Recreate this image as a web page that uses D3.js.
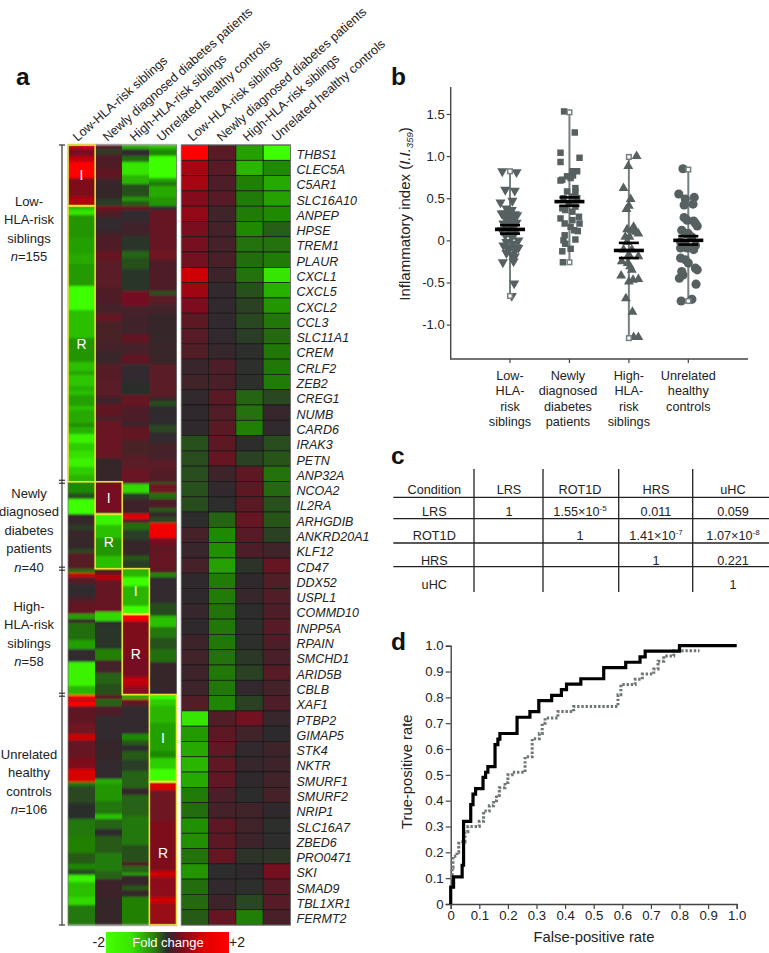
<!DOCTYPE html>
<html><head><meta charset="utf-8">
<style>html,body{margin:0;padding:0;background:#fff}svg{display:block}text{font-family:"Liberation Sans",Arial,sans-serif;fill:#222}</style>
<script src="https://cdn.jsdelivr.net/npm/d3@7"></script></head><body>
<script>
// ---------- data ----------
const conditions=["Low-HLA-risk siblings","Newly diagnosed diabetes patients","High-HLA-risk siblings","Unrelated healthy controls"];
const groupSizes=[155,40,58,106];
const inducedCounts=[28,15,21,40];
const groupLabels=[["Low-","HLA-risk","siblings","=155"],["Newly","diagnosed","diabetes","patients","=40"],["High-","HLA-risk","siblings","=58"],["Unrelated","healthy","controls","=106"]];
const genes=["THBS1","CLEC5A","C5AR1","SLC16A10","ANPEP","HPSE","TREM1","PLAUR","CXCL1","CXCL5","CXCL2","CCL3","SLC11A1","CREM","CRLF2","ZEB2","CREG1","NUMB","CARD6","IRAK3","PETN","ANP32A","NCOA2","IL2RA","ARHGDIB","ANKRD20A1","KLF12","CD47","DDX52","USPL1","COMMD10","INPP5A","RPAIN","SMCHD1","ARID5B","CBLB","XAF1","PTBP2","GIMAP5","STK4","NKTR","SMURF1","SMURF2","NRIP1","SLC16A7","ZBED6","PRO0471","SKI","SMAD9","TBL1XR1","FERMT2"];
const geneLRS=[2,1.3,1.3,1.05,1.15,.95,.9,.85,1.6,1.25,1,.6,.5,.45,.15,.25,.05,.02,.02,-.4,-.35,-.35,-.4,-.35,-.03,.3,.15,.3,.02,.03,.1,.02,.2,.25,.2,.2,.45,-1.8,-1.15,-1.3,-1.4,-1.3,-.85,-.7,-1.05,-1.05,-.75,-1.1,-.7,-.65,-.5];
const geneROT=[.55,.55,.4,.5,.25,.3,.3,.35,.2,.05,.05,.05,.05,.1,.4,.35,.55,.45,.55,.6,.7,.2,.05,-.03,-.6,-1,-1.05,-1.2,-.85,-.85,-.75,-.8,-.8,-.75,-.8,-.8,-.95,.45,.6,.65,.65,.65,.35,.3,.6,.6,.7,-.03,.05,.2,.7];
const geneHRS=[-1.2,-1.4,-.9,-.85,-.85,-1,-.75,-.7,-.75,-.4,-.25,-.3,-.2,-.05,-.05,-.05,-.6,-.75,-.9,-.03,-.25,.6,.6,.55,.7,.5,.4,-.1,.03,.1,-.03,-.05,-.05,-.15,-.25,.05,-.25,.85,.25,.05,.1,.03,-.02,.25,.25,.2,-.1,.02,-.05,-.3,-.9];
const geneUHC=[-2,-1,-1.3,-1.2,-1,-.55,-.75,-.85,-1.8,-1.35,-1.1,-.8,-.65,-.8,-.8,-.85,-.3,.1,.05,-.35,-.45,-.75,-.65,-.4,-.45,-.25,.25,.7,.45,.45,.4,.5,.4,.35,.5,.3,.4,.1,0,.2,.2,.25,.3,.02,-.05,-.03,-.12,.9,.5,.5,.35];
// sample heatmap: runs of [samples, fold change] per condition column
const runsLRS=[
 [[2,1.5],[3,.9],[3,1.5],[7,2],[9,1],[4,1.4],[2,-1.5],[2,-1.8],[11,-1.1],[7,-1.2],[5,-1.3],[10,-1.15],[11,-2],[13,-1.5],[11,-1.1],[4,-1.5],[2,-1.25],[5,-1.55],[2,-1.35],[2,-1.5],[5,-1.2],[2,-1.5],[6,-1.3],[2,-1.05],[3,-1.35],[4,-1.9],[4,-1.6],[3,-1.75],[4,-1.9],[4,-1.6],[3,-1.4]],
 [[2,.5],[2,-.2],[7,.4],[4,.6],[2,.3],[8,.1],[3,-.2],[2,.9],[3,.4],[6,.05],[3,.2],[7,.4],[4,.7],[13,.55],[7,.4],[5,.3],[3,.7],[9,.35],[5,.3],[6,.15],[8,.5],[7,.55],[3,.2],[6,.6],[2,.3],[17,.75],[11,.1]],
 [[2,-1.3],[3,.05],[3,-.7],[6,-1.8],[4,-1.4],[6,-.4],[2,-1.1],[2,-.5],[2,.7],[5,.05],[7,.25],[7,-.1],[3,-.6],[5,-.4],[10,-.1],[7,.85],[5,.3],[8,.25],[4,.6],[5,.3],[5,.6],[8,.05],[6,-.05],[5,.7],[7,.4],[3,.2],[6,.65],[7,.35],[6,.55],[6,.75]],
 [[2,-1.5],[3,-1],[10,-2],[2,-1.2],[2,-.8],[5,-1.3],[4,-1.1],[2,.05],[19,.7],[4,.8],[14,.4],[2,-.4],[4,.55],[5,.3],[12,.1],[11,.15],[15,.55],[2,.15],[2,-.35],[9,0],[3,-.3],[5,.05],[8,.3],[5,.55],[5,.45]]];
const runsROT=[
 [[5,-1],[3,-.4],[7,-2],[5,.1],[2,-.2],[4,.15],[5,.1],[2,-.3],[7,.5]],
 [[15,.9],[5,-1.9],[6,-1.5],[8,-1.1],[6,-1.5]],
 [[1,.3],[4,-1.7],[3,-.2],[7,.2],[2,1.8],[2,.5],[3,-.7],[5,-.2],[7,.1],[2,-.5],[4,-.2]],
 [[1,-.4],[4,.8],[3,-.7],[4,.4],[2,-.5],[2,.1],[3,-.3],[7,1.9],[3,.9],[3,.6],[8,.7]]];
const runsHRS=[
 [[2,-.7],[2,1.6],[3,.5],[5,0],[3,.3],[6,.65],[2,-1.2],[2,.2],[8,-.7],[4,-1.2],[6,.05],[11,-1.9],[4,-1.4]],
 [[3,.6],[2,1.4],[15,.7],[4,-1.7],[2,0],[11,-.1],[5,-.9],[6,.3],[5,-.6],[5,-.4]],
 [[4,-1.4],[4,-2],[9,-1.4],[4,-2],[3,2],[16,1],[10,.9],[4,1.5],[4,1.1]],
 [[2,.5],[2,-1],[12,.05],[6,-.35],[5,-1.5],[5,-.8],[5,-.4],[6,-.7],[15,.1]]];
const runsUHC=[
 [[2,2],[1,1],[2,2],[8,.6],[5,.8],[3,1.6],[8,.7],[5,1],[6,1.7],[2,-.8],[8,-.3],[7,-.05],[8,-.8],[8,-.9],[5,-.5],[2,-1],[3,-.4],[3,-1.9],[7,-1.5],[4,-1.7],[9,-.8]],
 [[2,.6],[3,-.6],[5,.4],[11,.05],[9,.1],[9,.05],[2,-1.3],[8,-1.1],[6,-.8],[2,-1.5],[5,-.6],[3,0],[8,-.5],[8,-.85],[4,-.6],[8,.2],[13,.1]],
 [[2,-1.3],[1,1.2],[2,.5],[13,.05],[3,-1],[2,-.5],[3,0],[4,-.5],[5,-.2],[8,-.6],[3,.1],[10,-.6],[13,-.8],[8,-.4],[2,.4],[3,-.6],[1,-1.3],[5,.1],[2,-.5],[3,.1],[13,-.9]],
 [[2,-2],[3,-1.6],[8,-1.4],[13,-1.2],[3,-1],[5,-1.6],[6,-2],[4,1.7],[14,.8],[23,1],[3,1.6],[9,1.1],[3,1.6],[10,1.2]]];
const allRuns=[runsLRS,runsROT,runsHRS,runsUHC];
const foldStops=[-2,-1.5,-1,0,1,1.5,2];
const foldColors=["#3dff00","#2cc000","#1f8a00","#2d2a2e","#7e0c1e","#c00008","#ff0000"];
const barStops=[0,.2,.4,.5,.6,.8,1];
const barColors=["#45ff00","#38e800","#2a7a10","#2d2a2e","#701020","#e00000","#ff0000"];
// panel b
const iiLabels=[["Low-","HLA-","risk","siblings"],["Newly","diagnosed","diabetes","patients"],["High-","HLA-","risk","siblings"],["Unrelated","healthy","controls"]];
const iiTicks=[1.5,1,.5,0,-.5,-1];
const iiLRS=[.82,.81,.6,.59,.45,.47,.38,.36,.32,.32,.31,.28,.28,.3,.32,.24,.24,.2,.2,.21,.16,.14,.12,.1,.08,.06,.04,0,-.02,-.04,-.06,-.08,-.08,-.11,-.13,-.09,-.17,-.15,-.19,-.25,-.26,-.51,-.66];
const jitLRS=[-.13,.11,-.08,.08,-.16,.04,-.06,.03,-.11,-.03,.08,-.08,.03,.12,-.14,-.06,.06,-.11,0,.11,-.08,.03,-.14,-.03,.08,-.08,.03,.14,-.06,.06,-.11,0,.11,-.03,.08,.14,.03,-.06,.08,.06,-.12,.07,.03];
const iiROT=[1.53,1.28,1.04,.93,.98,.82,.82,.77,.76,.72,.74,.71,.62,.58,.57,.52,.5,.5,.44,.38,.4,.36,.34,.26,.28,.24,.2,.2,.16,.12,.11,.06,0,.01,-.04,-.1,-.13,-.26];
const jitROT=[-.09,.09,-.15,-.15,.17,.13,.05,.06,-.04,-.12,.02,-.15,.1,-.04,.1,.05,-.1,.13,-.01,-.12,.1,-.07,.05,-.15,.16,.05,-.08,.17,.02,.08,.14,-.08,-.1,.1,-.07,.02,-.12,-.11];
const iiHRS=[1,.88,.62,.49,.41,.37,.16,.13,.08,.04,.12,-.02,-.11,-.19,-.25,-.27,-.31,-.35,-.42,-.46,-.47,-.49,-.69,-.85,-1.15,-1.15,-.11,-.17,.1,.04];
const jitHRS=[.13,-.01,-.09,.03,0,-.04,.08,-.03,.16,-.06,.05,-.03,.05,.16,-.12,-.02,.02,.05,-.13,.16,.07,0,-.05,.06,.08,.16,-.09,0,.11,.01];
const iiUHC=[.85,.55,.49,.51,.42,.43,.27,.24,.23,.2,.17,.12,.08,.08,.04,-.02,-.04,-.06,-.09,-.09,-.11,-.21,-.23,-.27,-.33,-.35,-.37,-.41,-.45,-.52,-.7,-.72];
const jitUHC=[-.09,-.16,-.05,.1,-.07,.08,-.07,-.02,.09,.12,.15,-.11,-.05,0,.06,-.13,-.05,.12,-.13,-.02,.09,-.13,-.05,0,.12,.15,-.11,-.09,-.15,.13,.06,-.12];
const iiMeans=[.13,.46,-.12,0];
const iiSEM=[.05,.05,.09,.05];
const iiMax=[.82,1.52,.99,.84];
const iiMin=[-.66,-.26,-1.16,-.72];
// panel c
const tableHead=["Condition","LRS","ROT1D","HRS","uHC"];
const tableRows=[["LRS","1",["1.55×10","-5"],"0.011","0.059"],["ROT1D","","1",["1.41×10","-7"],["1.07×10","-8"]],["HRS","","","1","0.221"],["uHC","","","","1"]];
// panel d
const rocFpr=[0,0,.01,.04,.045,.07,.078,.087,.113,.122,.13,.155,.165,.172,.232,.277,.308,.353,.387,.405,.455,.535,.612,.662,.68,.8,1];
const rocTpr=[0,.065,.105,.15,.32,.385,.425,.447,.49,.51,.532,.617,.638,.66,.723,.745,.787,.808,.83,.851,.872,.915,.936,.957,.979,1,1];
const roc2Fpr=[0,.005,.008,.022,.028,.042,.05,.06,.1,.115,.135,.15,.16,.17,.19,.2,.215,.26,.285,.31,.32,.33,.375,.43,.585,.595,.645,.67,.71,.725,.745,.78,.87];
const roc2Tpr=[.1,.14,.185,.2,.235,.24,.28,.3,.32,.36,.38,.4,.42,.45,.47,.5,.51,.57,.64,.66,.7,.72,.745,.765,.81,.85,.87,.89,.91,.94,.96,.98,.98];
const rocTicks=[0,.1,.2,.3,.4,.5,.6,.7,.8,.9,1];

// ---------- drawing ----------
const W=769,H=953,FS=12.7;
const svg=d3.select("body").append("svg").attr("width",W).attr("height",H).attr("viewBox",`0 0 ${W} ${H}`);
const defs=svg.append("defs");
defs.append("filter").attr("id","soft").attr("x","0").attr("width","1").attr("y","-0.02").attr("height","1.04").append("feGaussianBlur").attr("stdDeviation","0 0.8");
const fc=d3.scaleLinear().domain(foldStops).range(foldColors);
const txt=(g,x,y,s,o={})=>g.append("text").attr("x",x).attr("y",y).attr("text-anchor",o.a||"middle").attr("font-size",o.fs||FS).attr("font-weight",o.w||null).attr("font-style",o.i?"italic":null).style("fill",o.c||null).text(s);
// panel letters
[["a",16,85],["b",391,85],["c",391,464],["d",391,650]].forEach(d=>txt(svg,d[1],d[2],d[0],{a:"start",fs:24.5,w:"bold",c:"#111"}));

// ---- a: sample heatmap
const hTop=145,hBot=925;
const total=d3.sum(groupSizes);
const yS=d3.scaleLinear().domain([0,total]).range([hTop,hBot]);
const xL=d3.scaleBand().domain(d3.range(4)).range([68,176.5]);
const hm=svg.append("g");
const hmCells=hm.append("g").attr("filter","url(#soft)");
let off=0;
const offsets=groupSizes.map(n=>{const o=off;off+=n;return o;});
allRuns.forEach((cols,g)=>cols.forEach((runs,c)=>{
  let s=offsets[g];
  runs.forEach((r,i)=>{
    const e=i===runs.length-1?offsets[g]+groupSizes[g]:s+r[0];
    hmCells.append("rect").attr("x",xL(c)).attr("width",xL.bandwidth()).attr("y",yS(s)).attr("height",yS(e)-yS(s)).attr("fill",fc(r[1])).attr("shape-rendering","crispEdges");
    s=e;
  });
}));
hm.append("rect").attr("x",68).attr("y",hTop).attr("width",108.5).attr("height",hBot-hTop).attr("fill","none").attr("stroke","#777").attr("stroke-width",.8);
groupSizes.forEach((n,g)=>{
  const o=offsets[g],k=inducedCounts[g];
  [[o,o+k,"I"],[o+k,o+n,"R"]].forEach(b=>{
    hm.append("rect").attr("x",xL(g)).attr("width",xL.bandwidth()).attr("y",yS(b[0])).attr("height",yS(b[1])-yS(b[0])).attr("fill","none").attr("stroke","#e9e23c").attr("stroke-width",1.6);
    txt(hm,xL(g)+xL.bandwidth()/2,(yS(b[0])+yS(b[1]))/2+5,b[2],{fs:14,c:"#fff"});
  });
});
// bracket
const br=svg.append("g").attr("stroke","#333").attr("stroke-width",1.2);
br.append("line").attr("x1",62).attr("x2",62).attr("y1",hTop).attr("y2",hBot);
[0,total].forEach(v=>br.append("line").attr("x1",59).attr("x2",65).attr("y1",yS(v)).attr("y2",yS(v)));
offsets.slice(1).forEach(v=>[-1.5,1.5].forEach(d=>br.append("line").attr("x1",59).attr("x2",65).attr("y1",yS(v)+d).attr("y2",yS(v)+d)));
// group labels
const groupLabelTop=[201,493,606,754];
groupLabels.forEach((lines,g)=>{
  lines.forEach((l,i)=>{
    const last=i===lines.length-1;
    const t=txt(svg,29,groupLabelTop[g]+4.5+i*18.5,last?"":l,{fs:13});
    if(last){t.append("tspan").attr("font-style","italic").text("n");t.append("tspan").text(l);}
  });
});
// headers
const hdrX=[77.5,107.5,134.5,161.5,192.5,221.5,247.5,276.5];
hdrX.forEach((x,i)=>{
  svg.append("text").attr("transform",`translate(${x},142) rotate(-41.5)`).attr("font-size",12.6).text(conditions[i%4]);
});
// ---- a: gene heatmap
const xR=d3.scaleBand().domain(d3.range(4)).range([181.3,290.5]);
const yR=d3.scaleBand().domain(genes).range([hTop,hBot]);
const geneCols=[geneLRS,geneROT,geneHRS,geneUHC];
genes.forEach((g,r)=>{
  geneCols.forEach((col,c)=>{
    svg.append("rect").attr("x",xR(c)).attr("y",yR(g)).attr("width",xR.bandwidth()).attr("height",yR.bandwidth()).attr("fill",fc(col[r])).attr("stroke","#141414").attr("stroke-width",.7);
  });
  txt(svg,296.5,yR(g)+yR.bandwidth()/2+6,g,{a:"start",i:1,fs:12.5});
});
svg.append("rect").attr("x",181.3).attr("y",hTop).attr("width",109.2).attr("height",hBot-hTop).attr("fill","none").attr("stroke","#777").attr("stroke-width",.9);
// colour bar
const grad=defs.append("linearGradient").attr("id","fcg");
barStops.forEach((t,i)=>grad.append("stop").attr("offset",t).attr("stop-color",barColors[i]));
svg.append("rect").attr("x",106).attr("y",932).attr("width",123).attr("height",21).attr("fill","url(#fcg)");
txt(svg,168,946.5,"Fold change",{fs:13,c:"#fff"});
txt(svg,105,947,"-2",{a:"end",fs:14});
txt(svg,229,947,"+2",{a:"start",fs:14});

// ---- b: dot plot
const yB=d3.scaleLinear().domain([-1.408,1.82]).range([359,87]);
const xB=d3.scaleLinear().domain([0,3]).range([510,688.3]);
const unit=xB(1)-xB(0);
const gB=svg.append("g");
const axisCol="#444";
const styleAxis=(a,fs)=>{a.select(".domain").attr("stroke",axisCol).attr("stroke-width",1.4);a.selectAll(".tick line").attr("stroke",axisCol).attr("stroke-width",1.2);a.selectAll("text").attr("font-size",fs).attr("font-family",'"Liberation Sans",Arial,sans-serif').style("fill","#222");};
const axB=gB.append("g").attr("transform","translate(450.7,0)").call(d3.axisLeft(yB).tickValues(iiTicks).tickSize(4).tickPadding(2).tickFormat(v=>v===0?"0":v.toFixed(1)));
styleAxis(axB,13);axB.select(".domain").attr("d","M0,87V359");
gB.append("line").attr("x1",450).attr("x2",748).attr("y1",359).attr("y2",359).attr("stroke",axisCol).attr("stroke-width",1.4);
d3.range(4).forEach(i=>{
  gB.append("line").attr("x1",xB(i)).attr("x2",xB(i)).attr("y1",359).attr("y2",363).attr("stroke",axisCol).attr("stroke-width",1.2);
  iiLabels[i].forEach((l,j)=>txt(gB,xB(i)-(i===1?1.5:0),380+j*15.3,l));
});
const ptCol="#566060";
const sets=[[iiLRS,jitLRS,d3.symbolTriangle,45,180],[iiROT,jitROT,d3.symbolSquare,42,0],[iiHRS,jitHRS,d3.symbolTriangle,42,0],[iiUHC,jitUHC,d3.symbolCircle,66,0]];
sets.forEach((s,i)=>{
  gB.append("line").attr("x1",xB(i)).attr("x2",xB(i)).attr("y1",yB(iiMax[i])).attr("y2",yB(iiMin[i])).attr("stroke","#768080").attr("stroke-width",2);
  s[0].forEach((v,k)=>{
    gB.append("path").attr("d",d3.symbol().type(s[2]).size(s[3])()).attr("transform",`translate(${xB(i)+s[1][k]*unit},${yB(v)}) rotate(${s[4]})`).attr("fill",ptCol);
  });
  [iiMax[i],iiMin[i]].forEach(v=>gB.append("rect").attr("x",xB(i)-2.3).attr("y",yB(v)-2.3).attr("width",4.6).attr("height",4.6).attr("fill","#fff").attr("stroke","#768080").attr("stroke-width",1.5));
  gB.append("line").attr("x1",xB(i)-15).attr("x2",xB(i)+15).attr("y1",yB(iiMeans[i])).attr("y2",yB(iiMeans[i])).attr("stroke","#000").attr("stroke-width",3.6);
  [1,-1].forEach(d=>gB.append("line").attr("x1",xB(i)-10).attr("x2",xB(i)+10).attr("y1",yB(iiMeans[i]+d*iiSEM[i])).attr("y2",yB(iiMeans[i]+d*iiSEM[i])).attr("stroke","#000").attr("stroke-width",2.6));
});
const yt=gB.append("text").attr("transform","translate(410,214) rotate(-90)").attr("text-anchor","middle").attr("font-size",15);
yt.append("tspan").text("Inflammatory index (");
yt.append("tspan").attr("font-style","italic").text("I.I.");
yt.append("tspan").attr("font-style","italic").attr("font-size",9.5).attr("dy",3).text("359");
yt.append("tspan").attr("dy",-3).text(")");

// ---- c: table
const gC=svg.append("g");
const colX=[434.3,509,580,656,733],rowY=[489,511,535,560,584];
[474,543,618.7,692.7].forEach(x=>gC.append("line").attr("x1",x).attr("x2",x).attr("y1",469).attr("y2",592).attr("stroke","#222").attr("stroke-width",1.3));
[497.3,518.7,543,566.7].forEach(y=>gC.append("line").attr("x1",393.3).attr("x2",769).attr("y1",y).attr("y2",y).attr("stroke","#222").attr("stroke-width",1.3));
tableHead.forEach((h,c)=>txt(gC,colX[c],rowY[0]+4.5,h));
tableRows.forEach((row,r)=>row.forEach((v,c)=>{
  if(!v)return;
  const t=txt(gC,colX[c],rowY[r+1]+4.5,Array.isArray(v)?v[0]:v);
  if(Array.isArray(v))t.append("tspan").attr("font-size",8).attr("dy",-5).text(v[1]);
}));

// ---- d: ROC
const xD=d3.scaleLinear().domain([0,1]).range([450.7,736.7]);
const yD=d3.scaleLinear().domain([0,1]).range([904,645.7]);
const gD=svg.append("g");
const fmt=v=>v===0?"0":v.toFixed(1);
styleAxis(gD.append("g").attr("transform","translate(450.7,0)").call(d3.axisLeft(yD).tickValues(rocTicks).tickSize(5).tickPadding(2).tickFormat(fmt)),13.2);
styleAxis(gD.append("g").attr("transform","translate(0,904)").call(d3.axisBottom(xD).tickValues(rocTicks).tickSize(5).tickPadding(2).tickFormat(fmt)),13.2);
const ln=d3.line().x(d=>xD(d[0])).y(d=>yD(d[1])).curve(d3.curveStepAfter);
gD.append("path").attr("d",ln(d3.zip(roc2Fpr,roc2Tpr))).attr("fill","none").attr("stroke","#6e7676").attr("stroke-width",3).attr("stroke-dasharray","2.4 1.8");
gD.append("path").attr("d",ln(d3.zip(rocFpr,rocTpr))).attr("fill","none").attr("stroke","#000").attr("stroke-width",3.2);
txt(gD,594,942,"False-positive rate",{fs:14.8});
gD.append("text").attr("transform","translate(412,771.7) rotate(-90)").attr("text-anchor","middle").attr("font-size",14.8).text("True-positive rate");
</script></body></html>
